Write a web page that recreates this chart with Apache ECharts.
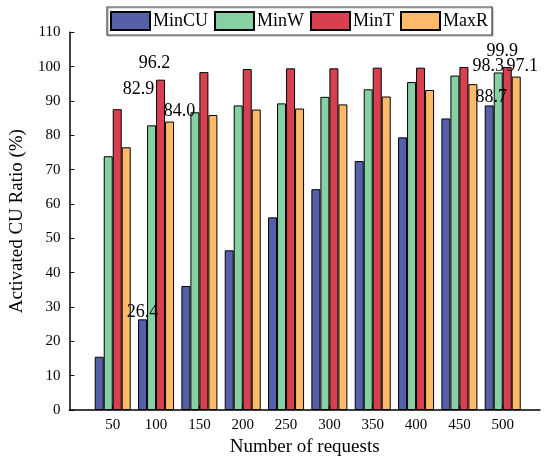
<!DOCTYPE html>
<html>
<head>
<meta charset="utf-8">
<script src="https://cdn.jsdelivr.net/npm/echarts@6/dist/echarts.min.js"></script>
<style>html,body{margin:0;padding:0;background:#fff;}#c{width:550px;height:462px;}</style>
</head>
<body>
<div id="c"></div>
<script>
const requests = [50, 100, 150, 200, 250, 300, 350, 400, 450, 500];
const minCU = [15.5, 26.4, 36.1, 46.5, 56.1, 64.3, 72.5, 79.4, 84.9, 88.7];
const minW  = [73.9, 82.9, 86.7, 88.7, 89.3, 91.2, 93.4, 95.5, 97.4, 98.3];
const minT  = [87.6, 96.2, 98.4, 99.3, 99.5, 99.5, 99.7, 99.7, 99.9, 99.9];
const maxR  = [76.5, 84.0, 85.9, 87.5, 87.8, 89.0, 91.3, 93.2, 94.9, 97.1];
const seriesNames = ['MinCU', 'MinW', 'MinT', 'MaxR'];
const yTicks = [0, 10, 20, 30, 40, 50, 60, 70, 80, 90, 100, 110];

// label offsets for annotated bars (series index -> data index -> [dx, dy])
const labelOffsets = {
  0: {1: [0, 2], 9: [2, 1]},
  1: {1: [-13, -27], 9: [-10, 3]},
  2: {1: [-6, -7], 9: [-5, -7]},
  3: {1: [10, -1], 9: [6, -1]}
};
const colors = ['#5560A8', '#86D0A4', '#D84050', '#FEBA68'];
const FONT = 'Liberation Serif';

const allValues = [minCU, minW, minT, maxR];
const series = allValues.map((vals, si) => ({
  name: seriesNames[si],
  type: 'bar',
  barWidth: 9,
  barGap: '0%',
  itemStyle: {color: colors[si], borderColor: '#000', borderWidth: 1},
  data: vals.map((v, i) => {
    const item = {value: [requests[i], v]};
    const off = labelOffsets[si][i];
    if (off) {
      item.label = {
        show: true, position: 'top', distance: 0, offset: off,
        fontFamily: FONT, fontSize: 18, lineHeight: 18, color: '#000',
        formatter: p => p.value[1].toFixed(1)
      };
    }
    return item;
  })
}));

const chart = echarts.init(document.getElementById('c'));
chart.setOption({
  animation: false,
  color: colors,
  textStyle: {fontFamily: FONT},
  legend: {
    left: 107, top: 7,
    icon: 'rect',
    itemWidth: 39, itemHeight: 18, itemGap: 6,
    padding: [4, 4, 4, 3],
    borderColor: '#444', borderWidth: 1.2,
    shadowColor: 'rgba(0,0,0,0.3)', shadowBlur: 1, shadowOffsetX: 1, shadowOffsetY: 1,
    backgroundColor: '#fff',
    textStyle: {fontFamily: FONT, fontSize: 18, color: '#000', padding: [0, 0, 0, -2]},
    data: seriesNames
  },
  grid: {left: 69, right: 10, top: 32.3, bottom: 52},
  xAxis: {
    type: 'value', min: 0, max: 543, interval: 50,
    name: 'Number of requests', nameLocation: 'middle', nameGap: 26,
    nameTextStyle: {fontFamily: FONT, fontSize: 19, color: '#000'},
    splitLine: {show: false},
    axisLine: {lineStyle: {color: '#000', width: 1.5}},
    axisTick: {inside: true, length: 5, customValues: requests, lineStyle: {color: '#000'}},
    axisLabel: {customValues: requests, fontFamily: FONT, fontSize: 15, color: '#000', margin: 8}
  },
  yAxis: {
    type: 'value', min: yTicks[0], max: yTicks[yTicks.length - 1], interval: 10,
    name: 'Activated CU Ratio (%)', nameLocation: 'middle', nameGap: 38,
    nameTextStyle: {fontFamily: FONT, fontSize: 19, color: '#000'},
    splitLine: {show: false},
    axisLine: {show: true, lineStyle: {color: '#000', width: 1.5}},
    axisTick: {show: true, inside: true, length: 5, lineStyle: {color: '#000'}},
    axisLabel: {fontFamily: FONT, fontSize: 15, color: '#000', margin: 9}
  },
  series: series
});
</script>
</body>
</html>
